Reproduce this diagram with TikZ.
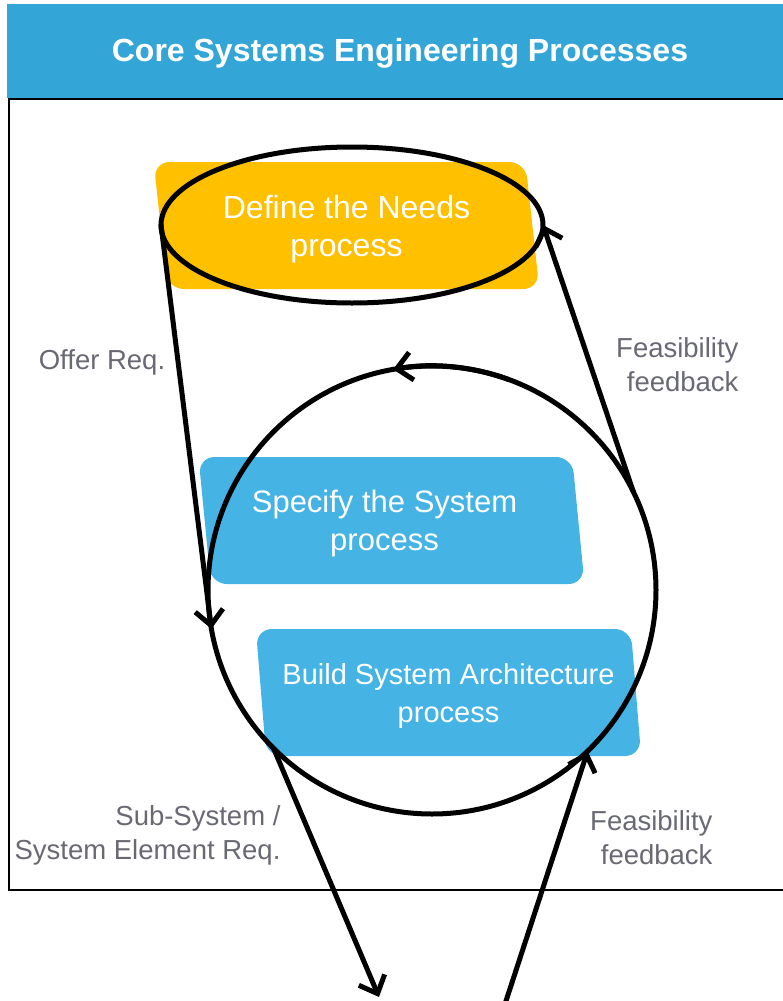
\documentclass[tikz,border=0pt]{standalone}
\usepackage{fontspec}
\setmainfont{Liberation Sans}
\usetikzlibrary{shapes.geometric,arrows.meta}
\definecolor{headblue}{RGB}{52,165,215}
\definecolor{needsyellow}{RGB}{255,192,0}
\definecolor{procblue}{RGB}{69,179,228}
\definecolor{labelgray}{RGB}{105,105,115}

\tikzset{
  procbox/.style={trapezium, trapezium left angle=99, trapezium right angle=81,
    trapezium stretches=true, minimum width=387pt, minimum height=127pt,
    rounded corners=16pt, text=white, align=center, inner sep=0pt, text depth=-2pt,
    font=\fontsize{32}{38}\selectfont},
  loopline/.style={draw=black, line width=5pt, outer sep=0pt},
  flow/.style={line width=5pt, line cap=round,
    -{Straight Barb[length=15pt,width=28pt]}},
  note/.style={text=labelgray, align=right, font=\fontsize{27.5}{34}\selectfont},
}

\begin{document}
\begin{tikzpicture}[x=1pt,y=-1pt]
\useasboundingbox (0,0) rectangle (783,1001);

% title band and frame
\fill[headblue] (7,4) rectangle (783,98);
\node[text=white, font=\bfseries\fontsize{32}{38}\selectfont] (title) at (400,53)
  {Core Systems Engineering Processes};
\draw[line width=2pt] (783,99) -- (9,99) -- (9,890) -- (783,890);

% processes
\node[procbox, fill=needsyellow] (needs) at (346.5,225.5) {Define the Needs\\process};
\node[procbox, fill=procblue, font=\fontsize{31}{38}\selectfont] (spec) at (391.5,520.5)
  {Specify the System\hspace*{14pt}\\process\hspace*{14pt}};
\node[procbox, fill=procblue, font=\fontsize{29}{38}\selectfont] (arch) at (448.5,692.5)
  {Build System Architecture\\process};

% loops
\node[ellipse, loopline, minimum width=382pt, minimum height=156pt] (needsloop) at (352,225) {};
\node[circle, loopline, minimum size=448pt] (sysloop) at (432,590) {};
\draw[flow] (sysloop.70) arc[start angle=70, end angle=100, radius=224pt];

% flows
\coordinate (subout) at (379,997);
\coordinate (feedin) at (505,1004);
\draw[flow] (needsloop.180) -- (sysloop.190);
\draw[flow] (sysloop.26) -- (needsloop.east);
\draw[flow] (sysloop.225) -- (subout);
\draw[flow] (feedin) -- (sysloop.-46);

% labels
\node[note] (offer) at (102,362) {Offer Req.};
\node[note, anchor=east] (feedup) at (742,365) {Feasibility\\feedback};
\node[note, anchor=east] (subreq) at (284,835) {Sub-System /\\System Element Req.};
\node[note, anchor=east] (feeddown) at (716,838) {Feasibility\\feedback};
\end{tikzpicture}
\end{document}
